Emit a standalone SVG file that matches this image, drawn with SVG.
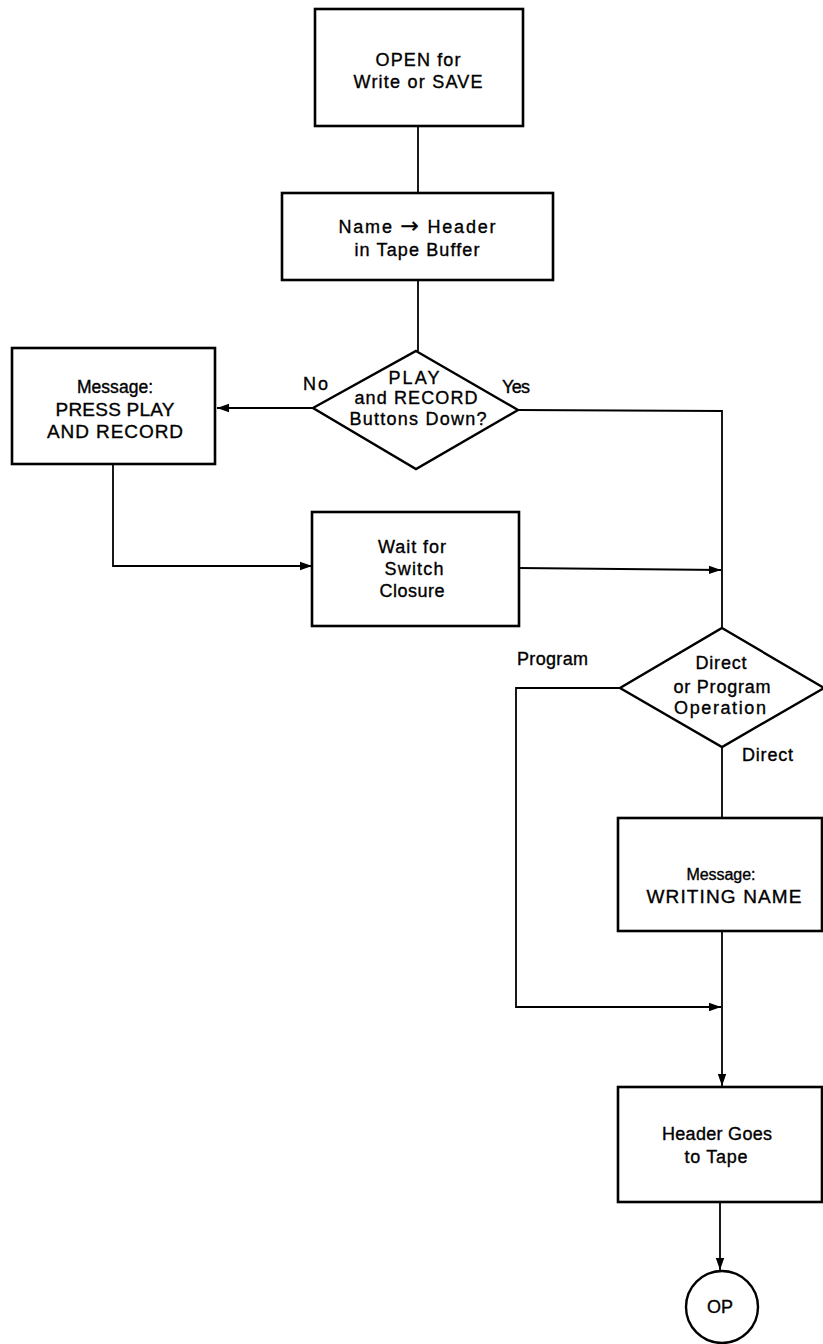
<svg xmlns="http://www.w3.org/2000/svg" width="823" height="1344" viewBox="0 0 823 1344">
<style>
.box{fill:#fff;stroke:#000;stroke-width:2.6}
.dia{fill:#fff;stroke:#000;stroke-width:2.4}
.ln{fill:none;stroke:#000;stroke-width:1.8}
text{font-family:"Liberation Sans",Arial,sans-serif;font-size:18px;fill:#000;stroke:#000;stroke-width:0.35;text-anchor:middle}
.lbl{text-anchor:start}
.sm{font-size:16px}
.md{font-size:17.5px}
.cap{font-size:19px}
.arr{font-family:"DejaVu Sans",sans-serif;font-size:22px}
</style>
<defs>
<marker id="ah" markerUnits="userSpaceOnUse" markerWidth="14" markerHeight="10" refX="12" refY="5" orient="auto">
<path d="M0,0.8 L12,5 L0,9.2 Z" fill="#000"/>
</marker>
</defs>
<rect width="823" height="1344" fill="#fff"/>
<g id="connectors">
<path class="ln" d="M418,126 L418,193"/>
<path class="ln" d="M418,280 L418,351"/>
<path class="ln" d="M313,408 L217,408" marker-end="url(#ah)"/>
<path class="ln" d="M518,410 L722,411 L722,628"/>
<path class="ln" d="M113,464 L113,566 L312,566" marker-end="url(#ah)"/>
<path class="ln" d="M519,568 L721,570" marker-end="url(#ah)"/>
<path class="ln" d="M620,688 L516,688 L516,1007 L721,1007" marker-end="url(#ah)"/>
<path class="ln" d="M722,747 L722,818"/>
<path class="ln" d="M722,931 L722,1086" marker-end="url(#ah)"/>
<path class="ln" d="M720,1202 L720,1270" marker-end="url(#ah)"/>
</g>
<g id="open">
<rect class="box" x="315" y="9" width="208" height="117"/>
<text x="418" y="66" textLength="85" lengthAdjust="spacing">OPEN for</text>
<text x="418" y="88" textLength="129" lengthAdjust="spacing">Write or SAVE</text>
</g>
<g id="name-header">
<rect class="box" x="282" y="193" width="271" height="87"/>
<text x="417" y="233" textLength="157" lengthAdjust="spacing">Name <tspan class="arr">→</tspan> Header</text>
<text x="417" y="256" textLength="125" lengthAdjust="spacing">in Tape Buffer</text>
</g>
<g id="buttons-down">
<polygon class="dia" points="416,351 518,410 416,469 313,408"/>
<text x="414" y="384" textLength="51" lengthAdjust="spacing">PLAY</text>
<text x="416" y="404" textLength="123" lengthAdjust="spacing">and RECORD</text>
<text x="418" y="425" textLength="137" lengthAdjust="spacing">Buttons Down?</text>
</g>
<text class="lbl" x="303" y="390" textLength="25" lengthAdjust="spacing">No</text>
<text class="lbl" x="502" y="393" textLength="28" lengthAdjust="spacing">Yes</text>
<g id="press-play">
<rect class="box" x="12" y="348" width="203" height="116"/>
<text class="md" x="115" y="393" textLength="76" lengthAdjust="spacing">Message:</text>
<text class="cap" x="115" y="416" textLength="119" lengthAdjust="spacing">PRESS PLAY</text>
<text class="cap" x="115" y="438" textLength="136" lengthAdjust="spacing">AND RECORD</text>
</g>
<g id="wait">
<rect class="box" x="312" y="512" width="207" height="114"/>
<text x="412" y="553" textLength="68" lengthAdjust="spacing">Wait for</text>
<text x="414" y="575" textLength="59" lengthAdjust="spacing">Switch</text>
<text x="412" y="597" textLength="65" lengthAdjust="spacing">Closure</text>
</g>
<g id="direct-or-program">
<polygon class="dia" points="722,628 824,688 722,747 620,688"/>
<text x="721" y="669" textLength="51" lengthAdjust="spacing">Direct</text>
<text x="722" y="693" textLength="97" lengthAdjust="spacing">or Program</text>
<text x="720" y="714" textLength="92" lengthAdjust="spacing">Operation</text>
</g>
<text class="lbl" x="517" y="665" textLength="71" lengthAdjust="spacing">Program</text>
<text class="lbl" x="742" y="761" textLength="51" lengthAdjust="spacing">Direct</text>
<g id="writing-name">
<rect class="box" x="618" y="818" width="204" height="113"/>
<text class="sm" x="721" y="880" textLength="69" lengthAdjust="spacing">Message:</text>
<text class="cap" x="724" y="903" textLength="155" lengthAdjust="spacing">WRITING NAME</text>
</g>
<g id="header-goes">
<rect class="box" x="618" y="1087" width="204" height="115"/>
<text x="717" y="1140" textLength="110" lengthAdjust="spacing">Header Goes</text>
<text x="716" y="1163" textLength="63" lengthAdjust="spacing">to Tape</text>
</g>
<g id="op">
<circle cx="722" cy="1307" r="36" fill="#fff" stroke="#000" stroke-width="2.4"/>
<text x="720" y="1313" textLength="26" lengthAdjust="spacing">OP</text>
</g>
</svg>
